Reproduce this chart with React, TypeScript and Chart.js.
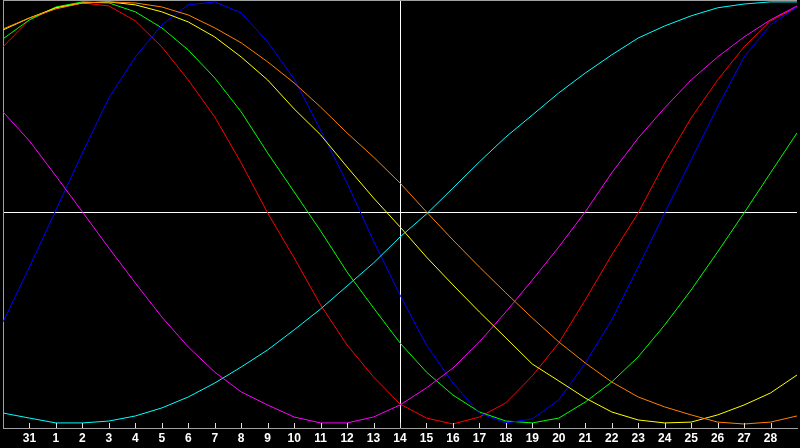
import { useEffect, useRef } from 'react';
import { Chart, registerables } from 'chart.js';

Chart.register(...registerables);

// day labels, one per sample; the first and last sit on the frame edges and are not printed
const dayLabels = [
  '30', '31', '1', '2', '3', '4', '5', '6', '7', '8', '9', '10', '11', '12', '13', '14',
  '15', '16', '17', '18', '19', '20', '21', '22', '23', '24', '25', '26', '27', '28', '29',
];
const todayLabelIndex = 15;

const redValues = [78.7, 91.5, 97.2, 99.5, 98.1, 91.0, 78.7, 63.0, 45.5, 23.7, 0, -21.3, -43.6, -62.6, -77.7, -90.5, -97.2, -100, -96.7, -90.0, -77.2, -61.6, -41.2, -19.9, 0, 23.7, 45.0, 63.0, 78.7, 91.0, 97.6];
const greenValues = [82.5, 91.5, 97.6, 100, 99.5, 95.3, 87.7, 77.2, 64.0, 47.9, 28.4, 10.0, -8.5, -28.0, -45.0, -61.6, -75.4, -86.3, -94.3, -98.6, -99.5, -97.2, -89.6, -80.1, -68.2, -53.1, -36.5, -18.5, 0, 19.0, 37.9];
const blueValues = [-51.7, -25.6, 1.4, 28.4, 54.5, 73.9, 89.1, 98.6, 100, 94.8, 81.0, 63.5, 39.3, 14.2, -13.3, -38.9, -62.6, -80.6, -94.8, -99.5, -97.6, -88.6, -71.1, -50.7, -25.6, 0, 25.1, 50.2, 73.9, 89.1, 97.6];
const cyanValues = [-94.8, -97.2, -99.5, -99.5, -98.6, -96.2, -92.4, -87.2, -80.6, -73.0, -64.9, -55.4, -45.5, -34.6, -23.7, -11.4, -0.5, 11.8, 24.2, 36.0, 46.4, 56.9, 66.3, 74.9, 82.9, 88.6, 93.4, 97.2, 99.0, 100, 100];
const magentaValues = [47.9, 34.1, 17.5, 0.5, -16.6, -33.2, -49.3, -63.5, -75.4, -84.8, -91.0, -96.7, -99.5, -99.5, -96.7, -91.0, -82.9, -73.5, -61.1, -46.9, -31.8, -16.1, 0.5, 19.0, 35.5, 49.8, 63.0, 73.9, 83.4, 91.5, 98.1];
const yellowValues = [86.7, 92.4, 97.2, 99.5, 100, 98.6, 95.3, 90.5, 83.4, 73.9, 63.0, 49.3, 37.0, 21.8, 7.1, -6.6, -20.9, -34.1, -46.9, -59.2, -71.6, -79.6, -87.7, -94.3, -98.1, -99.5, -99.1, -95.7, -91.0, -85.3, -76.8];
const orangeValues = [87.2, 92.4, 96.7, 99.5, 100, 99.5, 97.6, 93.8, 87.7, 80.6, 71.6, 61.6, 50.2, 37.9, 26.5, 14.2, 0.5, -12.8, -25.6, -37.9, -49.8, -61.1, -71.1, -80.1, -87.2, -91.9, -95.7, -99.1, -100, -99.1, -96.2];

const series = [
  { values: orangeValues, color: '#ff8000' },
  { values: yellowValues, color: '#ffff00' },
  { values: magentaValues, color: '#ff00ff' },
  { values: cyanValues, color: '#00ffff' },
  { values: blueValues, color: '#0000ff' },
  { values: greenValues, color: '#00ff00' },
  { values: redValues, color: '#ff0000' },
];

// top edge of the frame and the small day ticks pointing up from the axis
const framePlugin = {
  id: 'frame',
  afterDraw(chart: Chart) {
    const { ctx, chartArea } = chart;
    const x = chart.scales.x;
    ctx.save();
    ctx.lineWidth = 1;
    ctx.strokeStyle = '#a0a0a0';
    ctx.beginPath();
    ctx.moveTo(chartArea.left, chartArea.top + 0.5);
    ctx.lineTo(chartArea.right, chartArea.top + 0.5);
    ctx.stroke();

    ctx.strokeStyle = '#e0e0e0';
    ctx.beginPath();
    for (let i = 1; i < dayLabels.length - 1; i++) {
      const px = Math.round(x.getPixelForValue(i)) + 0.5;
      ctx.moveTo(px, chartArea.bottom);
      ctx.lineTo(px, chartArea.bottom - 5);
    }
    ctx.stroke();
    ctx.restore();
  },
};

export default function App() {
  const canvasRef = useRef<HTMLCanvasElement>(null);

  useEffect(() => {
    if (!canvasRef.current) return;
    const chart = new Chart(canvasRef.current, {
      type: 'line',
      data: {
        labels: dayLabels,
        datasets: series.map((s) => ({
          data: s.values,
          borderColor: s.color,
          borderWidth: 1,
          pointRadius: 0,
          tension: 0,
          fill: false,
        })),
      },
      options: {
        animation: false,
        responsive: false,
        events: [],
        layout: { padding: 0 },
        plugins: {
          legend: { display: false },
          tooltip: { enabled: false },
        },
        scales: {
          x: {
            type: 'category',
            offset: false,
            afterFit: (scale: any) => {
              scale.height = 20;
            },
            grid: {
              drawTicks: false,
              color: (c: any) => (c.index === todayLabelIndex ? '#ffffff' : 'transparent'),
            },
            border: { display: true, color: '#a0a0a0' },
            ticks: {
              autoSkip: false,
              maxRotation: 0,
              padding: 3,
              color: '#ffffff',
              font: { family: 'Liberation Sans', size: 12, weight: 'bold' },
              callback: (_v: any, i: number) =>
                i === 0 || i === dayLabels.length - 1 ? '' : dayLabels[i],
            },
          },
          y: {
            min: -101.9,
            max: 100.9,
            afterFit: (scale: any) => {
              scale.width = 0;
            },
            afterBuildTicks: (scale: any) => {
              scale.ticks = [{ value: 0 }];
            },
            grid: { drawTicks: false, color: '#ffffff' },
            border: { display: true, color: '#a0a0a0' },
            ticks: { display: false },
          },
        },
      },
      plugins: [framePlugin],
    });
    return () => chart.destroy();
  }, []);

  return (
    <div style={{ position: 'fixed', left: 0, top: 0, width: 800, height: 448, background: '#000' }}>
      <canvas ref={canvasRef} width={800} height={448} style={{ display: 'block' }} />
    </div>
  );
}
